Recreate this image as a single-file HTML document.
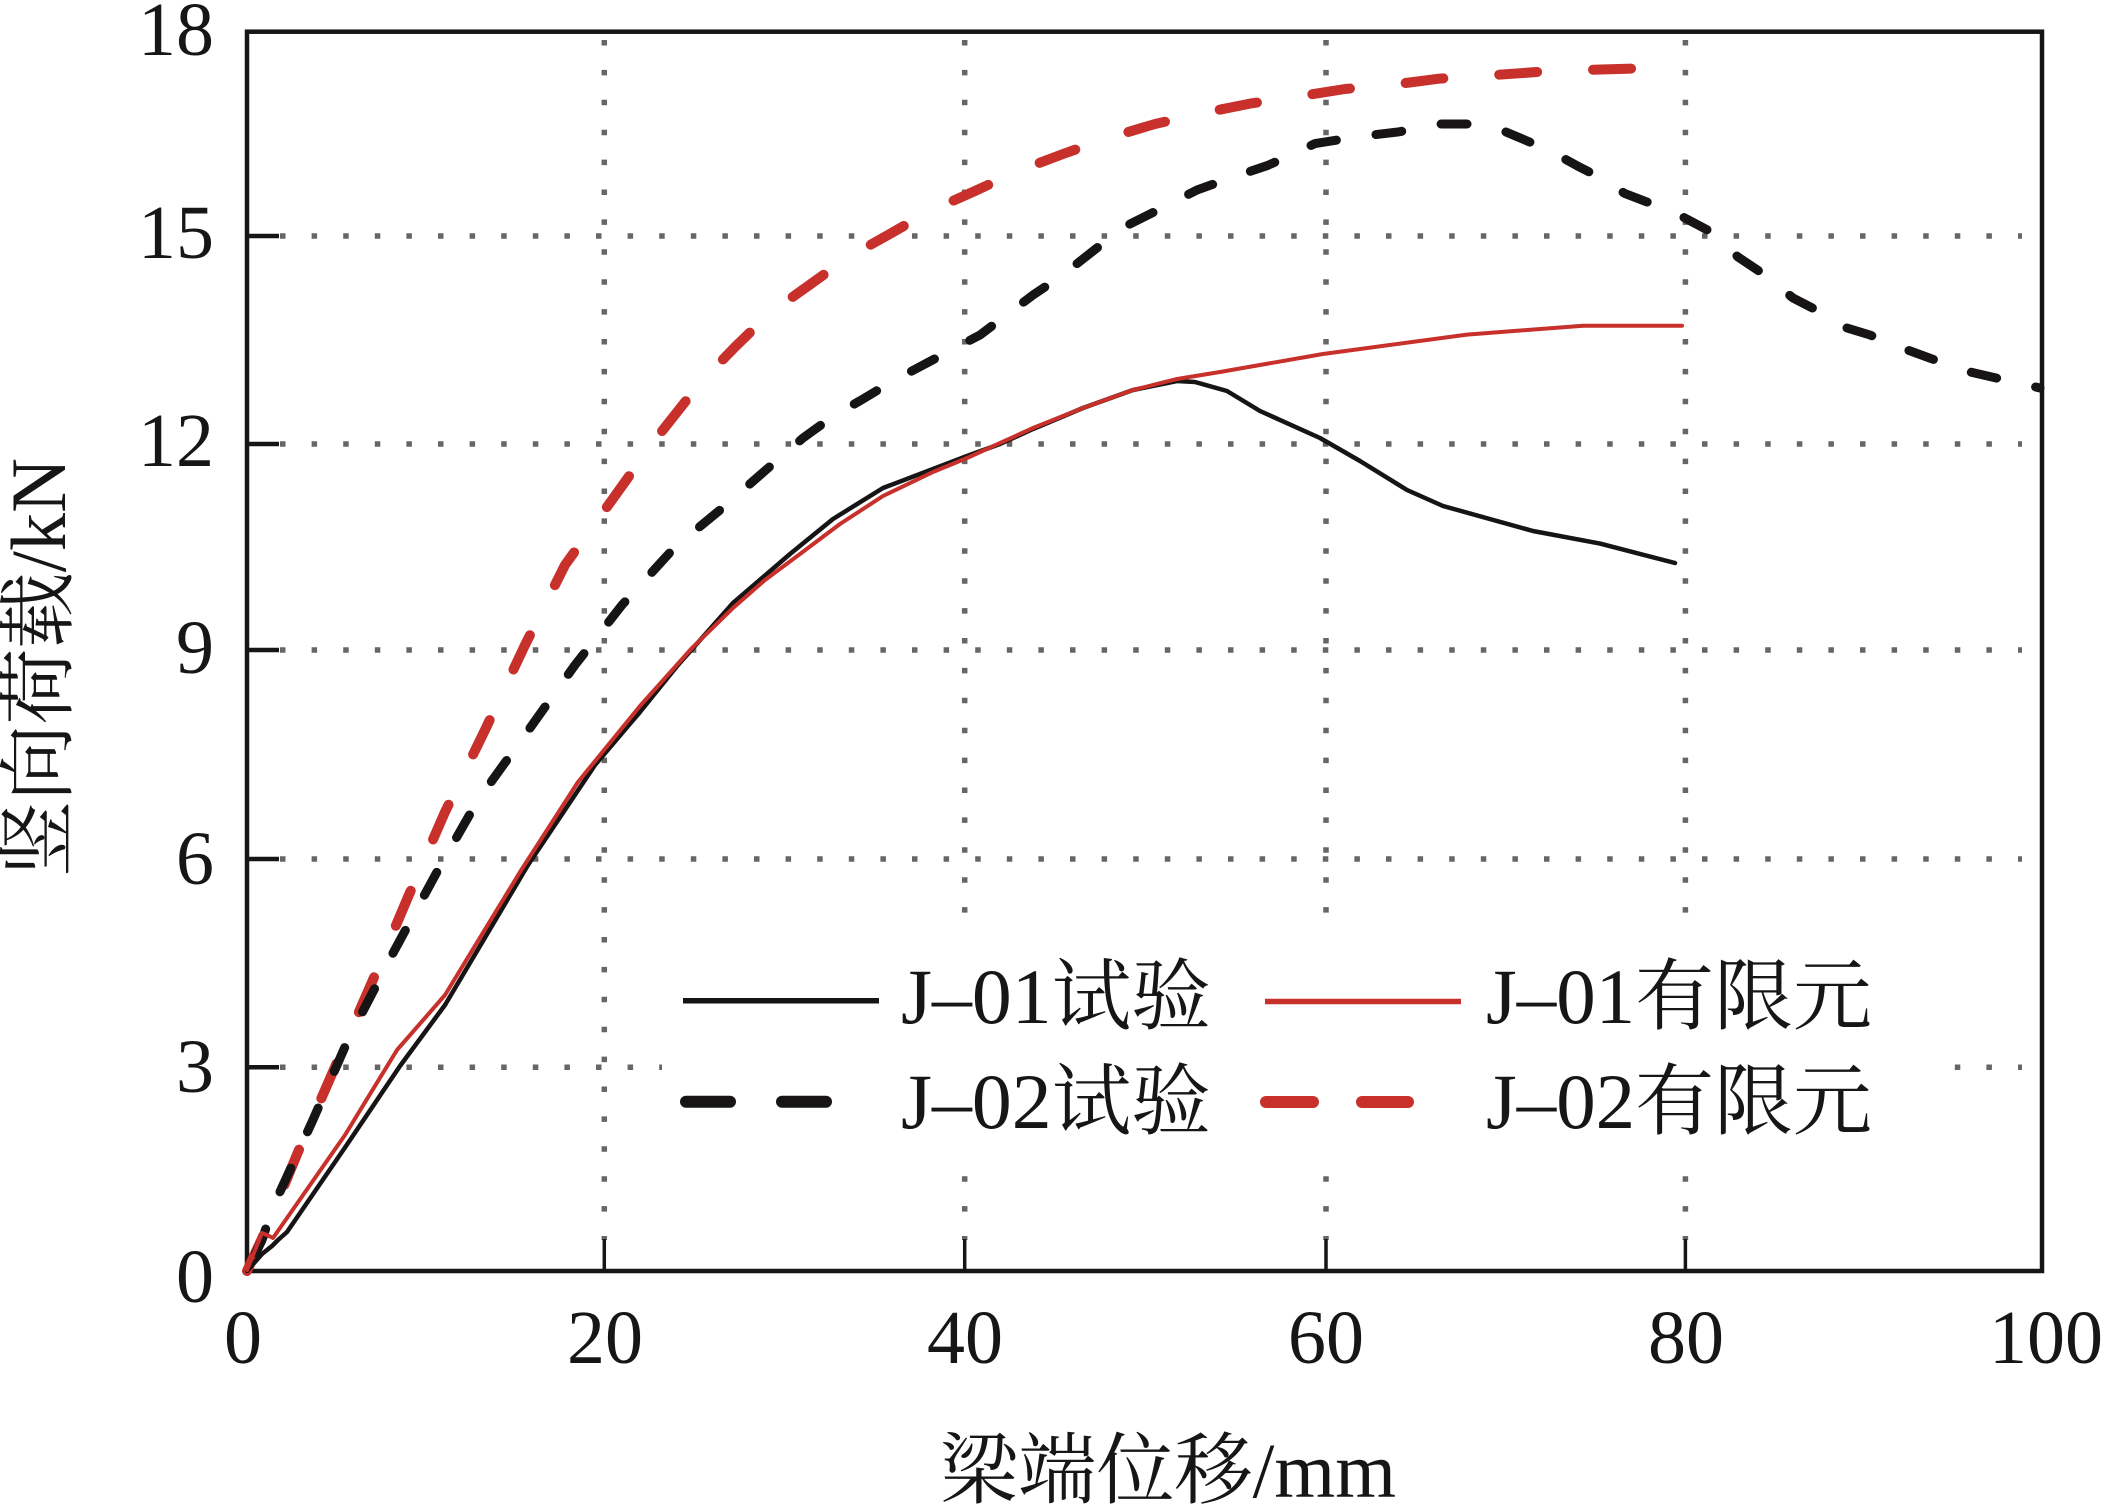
<!DOCTYPE html>
<html>
<head>
<meta charset="utf-8">
<style>
  html, body { margin: 0; padding: 0; background: #ffffff; }
  svg { display: block; }
  .tick { font-family: "Liberation Serif", "Noto Serif CJK SC", serif; font-size: 76px; fill: #161616; }
  .lab { font-family: "Liberation Serif", "Noto Serif CJK SC", serif; font-size: 78px; fill: #161616; }
</style>
</head>
<body>
<svg width="2104" height="1508" viewBox="0 0 2104 1508" xmlns="http://www.w3.org/2000/svg">
  <rect x="0" y="0" width="2104" height="1508" fill="#ffffff"/>

  <!-- horizontal dotted gridlines -->
  <g stroke="#666666" stroke-width="5.5" stroke-dasharray="5.5 26.1" fill="none">
    <line x1="280" y1="236" x2="2022" y2="236"/>
    <line x1="280" y1="444" x2="2022" y2="444"/>
    <line x1="280" y1="650" x2="2022" y2="650"/>
    <line x1="280" y1="859" x2="2022" y2="859"/>
    <line x1="280" y1="1067.3" x2="2022" y2="1067.3"/>
  </g>
  <!-- vertical dotted gridlines -->
  <g stroke="#666666" stroke-width="5.5" stroke-dasharray="5.5 24.4" fill="none">
    <line x1="604.3" y1="40" x2="604.3" y2="1240"/>
    <line x1="964.7" y1="40" x2="964.7" y2="1240"/>
    <line x1="1326" y1="40" x2="1326" y2="1240"/>
    <line x1="1685.4" y1="40" x2="1685.4" y2="1240"/>
  </g>

  <!-- legend background masking gridlines -->
  <rect x="662" y="935" width="1283" height="235" fill="#ffffff"/>

  <!-- axes box -->
  <rect x="247" y="31.7" width="1795" height="1239.3" fill="none" stroke="#161616" stroke-width="4.5"/>
  <!-- y ticks -->
  <g stroke="#161616" stroke-width="4.5">
    <line x1="247" y1="236" x2="279" y2="236"/>
    <line x1="247" y1="444" x2="279" y2="444"/>
    <line x1="247" y1="650" x2="279" y2="650"/>
    <line x1="247" y1="859" x2="279" y2="859"/>
    <line x1="247" y1="1067.3" x2="279" y2="1067.3"/>
  </g>
  <!-- x ticks -->
  <g stroke="#161616" stroke-width="3.5">
    <line x1="604.3" y1="1239" x2="604.3" y2="1271"/>
    <line x1="964.7" y1="1239" x2="964.7" y2="1271"/>
    <line x1="1326" y1="1239" x2="1326" y2="1271"/>
    <line x1="1685.4" y1="1239" x2="1685.4" y2="1271"/>
  </g>

  <!-- y tick labels -->
  <g class="tick" text-anchor="end">
    <text x="214" y="55">18</text>
    <text x="214" y="258">15</text>
    <text x="214" y="466">12</text>
    <text x="214" y="673">9</text>
    <text x="214" y="884">6</text>
    <text x="214" y="1092">3</text>
    <text x="214" y="1302">0</text>
  </g>
  <!-- x tick labels -->
  <g class="tick" text-anchor="middle">
    <text x="243" y="1363">0</text>
    <text x="605" y="1363">20</text>
    <text x="965" y="1363">40</text>
    <text x="1326" y="1363">60</text>
    <text x="1686" y="1363">80</text>
    <text x="2046" y="1363">100</text>
  </g>

  <!-- axis titles -->
  <text class="lab" x="940" y="1497" textLength="456" lengthAdjust="spacingAndGlyphs">梁端位移/mm</text>
  <text class="lab" transform="translate(65,667.5) rotate(-90)" x="0" y="0" text-anchor="middle" textLength="419" lengthAdjust="spacingAndGlyphs">竖向荷载/kN</text>

  <!-- J-02 FE (red dashed) -->
  <path fill="none" stroke="#c8302b" stroke-width="10" stroke-linecap="round" stroke-linejoin="round" stroke-dasharray="38 56"
    d="M247,1271 L265,1232 L298,1152 L335,1067 L372,982 L408,897 L445,812 L485,730 L525,645 L565,565 L612,500 L655,440 L700,383 L735,347 L770,313 L808,286 L847,258 L888,235 L930,211 L975,191 L1018,171 L1063,154 L1108,138 L1155,124 L1203,113 L1250,103.6 L1295,97 L1345,89 L1390,85 L1440,78.6 L1485,75.7 L1537,72 L1582,70 L1632,68.6"/>

  <!-- J-02 test (black dashed) -->
  <path fill="none" stroke="#161414" stroke-width="9" stroke-linecap="round" stroke-linejoin="round" stroke-dasharray="26 40" stroke-dashoffset="-20"
    d="M247,1271 L262,1240 L273,1207 L312,1122 L348,1040 L392,955 L438,870 L478,800 L525,735 L575,665 L622,605 L675,547 L720,510 L767,469 L803,438 L832,417 L863,399 L893,381 L957,347 L980,335 L1033,295 L1060,277 L1123,227.5 L1162,208 L1197,190 L1232,177.5 L1267,165.7 L1280,160 L1315,143.6 L1360,136.4 L1398,132 L1440,124 L1473,124 L1498,128.6 L1532,143 L1553,152.5 L1577,165.7 L1595,175 L1625,193.6 L1655,205 L1683,217 L1713,233 L1738,257 L1765,275 L1793,298 L1822,313 L1847,328 L1870,335 L1902,348 L1935,360 L1970,372 L2040,388"/>

  <!-- J-01 test (black solid) -->
  <path fill="none" stroke="#161414" stroke-width="4.5" stroke-linejoin="round" stroke-linecap="round"
    d="M247,1271 L262,1254 L272,1246 L278,1240 L287,1232 L345,1147.5 L400,1066 L445,1005 L528,865 L595,765 L640,712 L678,665 L733,603 L790,554 L833,519 L883,488 L933,469 L967,456 L1000,444 L1033,429 L1083,408 L1133,390 L1177,381 L1195,382 L1227,391 L1260,411 L1320,438 L1360,461 L1407,490 L1443,506 L1533,531 L1600,543.6 L1675,563"/>

  <!-- J-01 FE (red solid) -->
  <path fill="none" stroke="#c8302b" stroke-width="4" stroke-linejoin="round" stroke-linecap="round"
    d="M247,1270 L262,1233 L267,1235 L273,1238 L345,1135 L397,1050 L445,995 L520,872 L578,782 L640,706 L692,648 L733,608 L765,580 L800,554 L840,524 L883,496 L933,472 L967,458 L1033,428 L1083,408 L1133,390 L1177,379 L1220,372 L1323,354 L1467,334.6 L1583,325.7 L1682,325.7"/>

  <!-- legend -->
  <line x1="683" y1="1000.7" x2="879" y2="1000.7" stroke="#161414" stroke-width="5.5"/>
  <line x1="1265" y1="1001.5" x2="1461" y2="1001.5" stroke="#c8302b" stroke-width="5.5"/>
  <g stroke-width="12" stroke-linecap="round">
    <line x1="686" y1="1101.7" x2="730" y2="1101.7" stroke="#161414"/>
    <line x1="782" y1="1101.7" x2="826" y2="1101.7" stroke="#161414"/>
    <line x1="1266" y1="1102" x2="1313" y2="1102" stroke="#c8302b"/>
    <line x1="1362" y1="1102" x2="1408" y2="1102" stroke="#c8302b"/>
  </g>
  <text class="lab" x="901" y="1023" textLength="310" lengthAdjust="spacingAndGlyphs">J–01试验</text>
  <text class="lab" x="1486" y="1023" textLength="386" lengthAdjust="spacingAndGlyphs">J–01有限元</text>
  <text class="lab" x="901" y="1128" textLength="310" lengthAdjust="spacingAndGlyphs">J–02试验</text>
  <text class="lab" x="1486" y="1128" textLength="386" lengthAdjust="spacingAndGlyphs">J–02有限元</text>
</svg>
</body>
</html>
